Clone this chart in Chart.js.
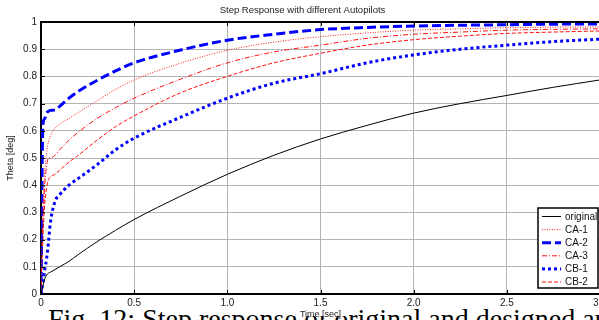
<!DOCTYPE html>
<html>
<head>
<meta charset="utf-8">
<script src="https://cdn.jsdelivr.net/npm/chart.js@4/dist/chart.umd.min.js"></script>
<style>
    html, body { margin: 0; padding: 0; background: #fff; overflow: hidden; }
    #wrap { position: relative; width: 599px; height: 320px; overflow: hidden; }
    #caption {
        position: absolute; left: 48px; top: 303px; white-space: nowrap;
        font-family: "Liberation Serif", "Times New Roman", serif; font-size: 28px; color: #000;
    }
    #stepChart { position: absolute; left: 0; top: 0; }
</style>
</head>
<body>
<div id="wrap">
    <div id="caption">Fig. 12: Step response of original and designed autopilots</div>
    <canvas id="stepChart" width="610" height="320"></canvas>
</div>
<script>
// time axis (sec)
const timeSec = [0, 0.01, 0.02, 0.03, 0.04, 0.05, 0.075, 0.1, 0.15, 0.2, 0.3, 0.4, 0.5, 0.75, 1, 1.25, 1.5, 1.75, 2, 2.25, 2.5, 2.75, 3];

// Theta [deg] per autopilot
const original = [0, 0.03, 0.055, 0.07, 0.077, 0.08, 0.09, 0.1, 0.12, 0.145, 0.192, 0.234, 0.274, 0.36, 0.44, 0.51, 0.57, 0.62, 0.665, 0.70, 0.73, 0.76, 0.787];
const ca1 = [0, 0.30, 0.45, 0.52, 0.56, 0.58, 0.61, 0.625, 0.645, 0.667, 0.71, 0.752, 0.787, 0.849, 0.896, 0.926, 0.946, 0.96, 0.97, 0.975, 0.979, 0.981, 0.982];
const ca2 = [0, 0.62, 0.645, 0.665, 0.672, 0.675, 0.677, 0.69, 0.72, 0.745, 0.785, 0.82, 0.85, 0.897, 0.933, 0.955, 0.972, 0.98, 0.985, 0.988, 0.99, 0.992, 0.993];
const ca3 = [0, 0.25, 0.40, 0.47, 0.50, 0.50, 0.51, 0.53, 0.565, 0.595, 0.645, 0.685, 0.72, 0.79, 0.85, 0.89, 0.915, 0.94, 0.955, 0.963, 0.97, 0.973, 0.975];
const cb1 = [0, 0.04, 0.09, 0.13, 0.19, 0.26, 0.34, 0.365, 0.40, 0.425, 0.475, 0.53, 0.573, 0.65, 0.72, 0.775, 0.81, 0.85, 0.879, 0.90, 0.915, 0.928, 0.937];
const cb2 = [0, 0.20, 0.33, 0.39, 0.42, 0.43, 0.44, 0.455, 0.485, 0.51, 0.565, 0.615, 0.655, 0.74, 0.80, 0.85, 0.885, 0.915, 0.935, 0.948, 0.958, 0.963, 0.967];

const xTicks = [0, 0.5, 1, 1.5, 2, 2.5, 3];

function makeSeries(label, values, color, width, dash) {
    return {
        label: label,
        data: timeSec.map((t, i) => ({ x: t, y: values[i] })),
        borderColor: color,
        borderWidth: width,
        borderDash: dash,
        pointRadius: 0,
        cubicInterpolationMode: 'monotone',
        fill: false
    };
}

// grey grid, black frame + inward ticks, legend box in the lower right
const matlabLook = {
    id: 'matlabLook',
    beforeDraw(chart) {
        // white patch behind the x-axis title (figure covers the caption there)
        const { ctx, chartArea: a } = chart;
        const cx = (a.left + a.right) / 2;
        ctx.save();
        ctx.fillStyle = '#fff';
        ctx.fillRect(cx - 28, a.bottom + 11, 56, 11);
        ctx.restore();
    },
    afterDatasetsDraw(chart) {
        const { ctx, chartArea: a, scales } = chart;
        ctx.save();
        ctx.strokeStyle = '#000';
        ctx.lineWidth = 2;
        ctx.setLineDash([]);
        ctx.beginPath();
        ctx.moveTo(a.left, a.top);
        ctx.lineTo(a.right, a.top);
        ctx.stroke();

        ctx.lineWidth = 1;
        ctx.beginPath();
        xTicks.forEach(v => {
            const px = Math.round(scales.x.getPixelForValue(v)) + 0.5;
            ctx.moveTo(px, a.top); ctx.lineTo(px, a.top + 4);
            ctx.moveTo(px, a.bottom); ctx.lineTo(px, a.bottom - 4);
        });
        for (let v = 0.1; v < 1; v += 0.1) {
            const py = Math.round(scales.y.getPixelForValue(v)) + 0.5;
            ctx.moveTo(a.left, py); ctx.lineTo(a.left + 4, py);
        }
        ctx.stroke();

        // legend
        const bx = 538, by = 208, bw = 60, bh = 80;
        ctx.fillStyle = '#fff';
        ctx.fillRect(bx, by, bw, bh);
        ctx.strokeStyle = '#000';
        ctx.lineWidth = 1.5;
        ctx.strokeRect(bx, by, bw, bh);
        ctx.font = '10px "Liberation Sans", Arial, sans-serif';
        ctx.textBaseline = 'middle';
        chart.data.datasets.forEach((ds, i) => {
            const y = by + 8.5 + i * 13.1;
            ctx.strokeStyle = ds.borderColor;
            ctx.lineWidth = ds.borderWidth;
            ctx.setLineDash(ds.borderDash || []);
            ctx.beginPath();
            ctx.moveTo(bx + 4, y);
            ctx.lineTo(bx + 23, y);
            ctx.stroke();
            ctx.fillStyle = '#111';
            ctx.fillText(ds.label, bx + 27, y + 0.5);
        });
        ctx.restore();
    }
};

const gridColor = '#b4b4b4';
const tickFont = { family: '"Liberation Sans", Arial, sans-serif', size: 10 };

new Chart(document.getElementById('stepChart').getContext('2d'), {
    type: 'line',
    data: {
        datasets: [
            makeSeries('original', original, '#000000', 1, []),
            makeSeries('CA-1', ca1, '#ff2020', 1, [1, 1.5]),
            makeSeries('CA-2', ca2, '#0000ff', 3, [9, 4]),
            makeSeries('CA-3', ca3, '#ff1010', 1, [5, 2, 1, 2]),
            makeSeries('CB-1', cb1, '#0000ff', 3, [3, 3]),
            makeSeries('CB-2', cb2, '#ff1010', 1, [4, 2])
        ]
    },
    options: {
        responsive: false,
        animation: false,
        layout: { padding: { left: 0, right: 5, top: 0, bottom: 0 } },
        plugins: {
            legend: { display: false },
            tooltip: { enabled: false },
            title: {
                display: true,
                text: 'Step Response with different Autopilots',
                color: '#222',
                font: { family: '"Liberation Sans", Arial, sans-serif', size: 9.5, weight: 'normal' },
                padding: { top: 5, bottom: 5.6 }
            }
        },
        scales: {
            x: {
                type: 'linear',
                min: 0,
                max: 3,
                afterFit: s => { s.height = 26; },
                afterBuildTicks: s => { s.ticks = xTicks.map(v => ({ value: v })); },
                ticks: { color: '#222', font: tickFont, padding: 3, maxRotation: 0 },
                grid: { color: gridColor, drawTicks: false },
                border: { color: '#000', width: 2 },
                title: {
                    display: true, text: 'Time [sec]', color: '#222',
                    font: { family: '"Liberation Sans", Arial, sans-serif', size: 9 },
                    padding: { top: 0, bottom: 0 }
                }
            },
            y: {
                min: 0,
                max: 1,
                afterFit: s => { s.width = 41; },
                ticks: {
                    stepSize: 0.1, color: '#222', font: tickFont, padding: 4,
                    callback: v => String(+v.toFixed(1))
                },
                grid: { color: gridColor, drawTicks: false },
                border: { color: '#000', width: 2 },
                title: {
                    display: true, text: 'Theta [deg]', color: '#222',
                    font: { family: '"Liberation Sans", Arial, sans-serif', size: 9 },
                    padding: { top: 5, bottom: 0 }
                }
            }
        }
    },
    plugins: [matlabLook]
});
</script>
</body>
</html>
